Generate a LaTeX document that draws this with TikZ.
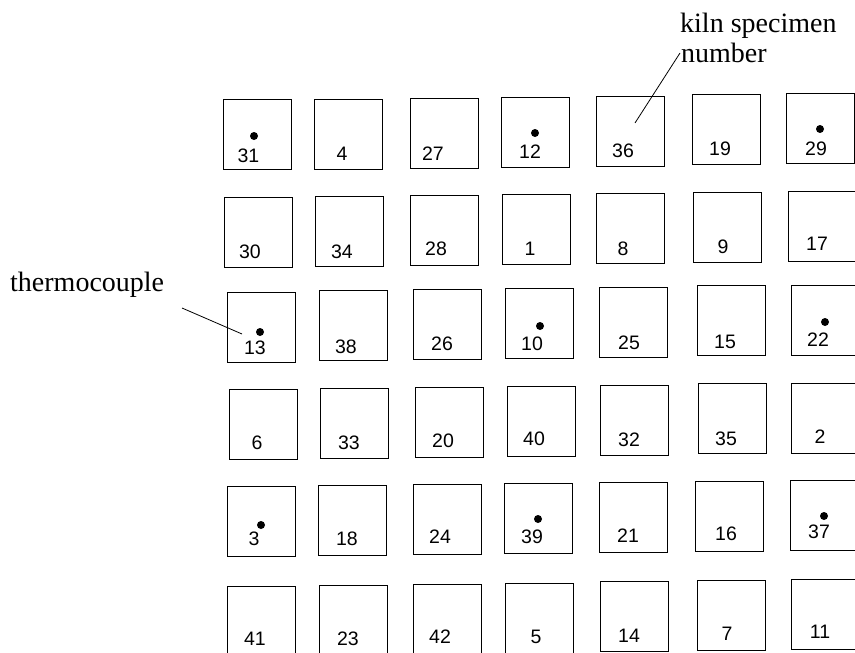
\documentclass[tikz,border=0pt]{standalone}
\usepackage{fontspec}
\setmainfont{Liberation Serif}
\newfontfamily\numfont{Liberation Sans}
\begin{document}
\begin{tikzpicture}[x=1pt,y=-1pt,
  specbox/.style={draw=black,line width=0.9pt,minimum width=68pt,minimum height=70pt,inner sep=0pt,anchor=north west},
  numlabel/.style={inner sep=0pt,anchor=base,font=\numfont\fontsize{19.5}{20}\selectfont},
  tclabel/.style={inner sep=0pt,anchor=base west,font=\fontsize{28}{30}\selectfont},
  tcdot/.style={circle,fill=black,inner sep=0pt,minimum size=8pt},
  leader/.style={draw=black,line width=0.8pt}]
\useasboundingbox (0,0) rectangle (855,653);
\foreach \n/\l/\t/\lx/\ly in {
  31/223/99/248.5/162, 4/314/99/342/160, 27/410/98/433/160, 12/501/97/530/158, 36/596/96/623/157, 19/692/94/720/155, 29/786/93/816/155,
  30/224/197/250/258, 34/315/196/342/258, 28/410/195/436/255, 1/502/194/530/255, 8/596/193/623/255, 9/693/192/723/253, 17/788/191/817/250,
  13/227/292/255/354, 38/319/290/346/353, 26/413/289/442/350, 10/505/288/532/350, 25/599/287/629/349, 15/697/285/725/348, 22/791/285/818/346,
  6/229/389/257/449, 33/320/388/349/449, 20/415/387/443/447, 40/507/386/534/445, 32/600/385/629/446, 35/698/383/726/445, 2/791/383/820/443,
  3/227/486/254/545, 18/318/485/347/545, 24/413/484/440/543, 39/504/483/532/543, 21/599/482/628/542, 16/695/481/726/540, 37/790/480/819/538,
  41/227/586/255/645, 23/319/585/348/645, 42/413/584/440/643, 5/505/583/536/643, 14/600/581/629/642, 7/697/580/727/640, 11/791/579/820/638}
{
  \node[specbox] (box\n) at (\l,\t) {};
  \node[numlabel] (num\n) at (\lx,\ly) {\n};
}
\foreach \n/\dx/\dy in {31/254/136, 12/535/133, 29/820/129, 13/260/332, 10/540/326, 22/825/322, 3/261/525, 39/538/519, 37/824/516}
{
  \node[tcdot] (dot\n) at (\dx,\dy) {};
}
\node[tclabel] (thermo) at (10,291) {thermocouple};
\node[tclabel] (kiln1) at (680,32) {kiln specimen};
\node[tclabel] (kiln2) at (681,62) {number};
\coordinate (thermoStart) at (182,308);
\coordinate (thermoEnd) at (242,334);
\coordinate (kilnStart) at (680,53);
\coordinate (kilnEnd) at (635,123);
\draw[leader] (thermoStart) -- (thermoEnd);
\draw[leader] (kilnStart) -- (kilnEnd);
\end{tikzpicture}
\end{document}
